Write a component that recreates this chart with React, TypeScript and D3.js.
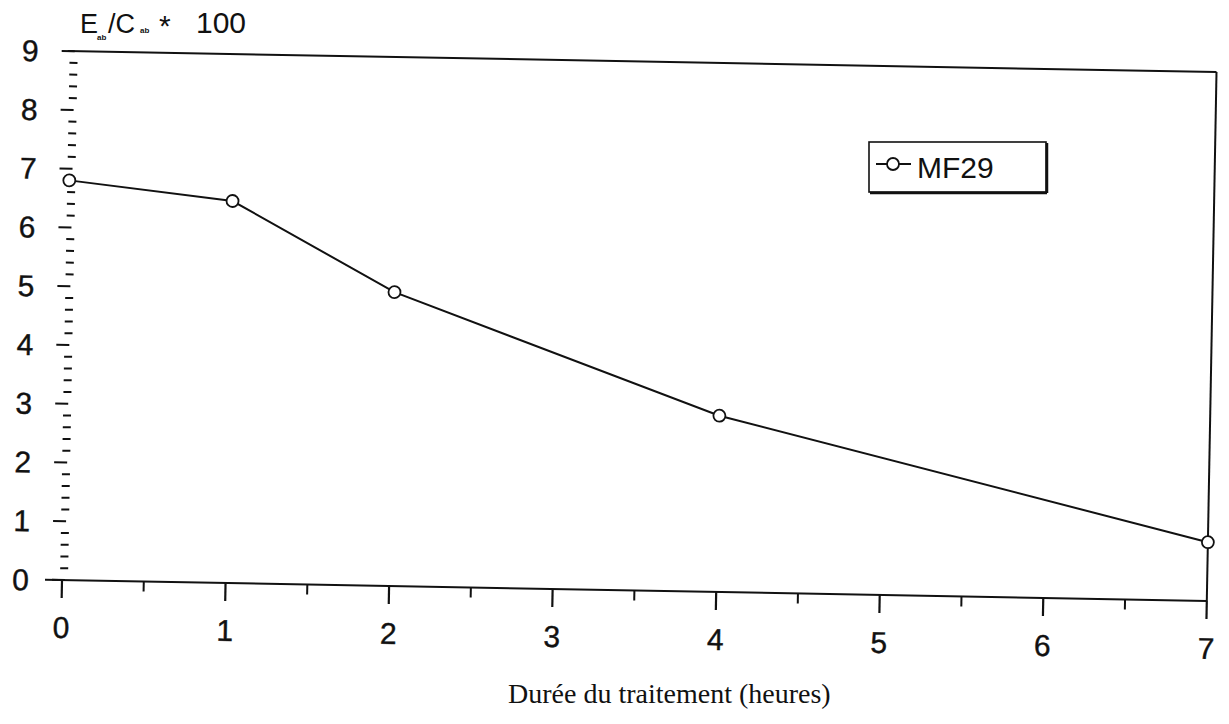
import * as d3 from 'd3'
import React from 'react'

// durée du traitement (heures) vs E/C * 100, série MF29
const hours = [0, 1, 2, 4, 7]
const mf29 = [6.8, 6.5, 5.0, 3.0, 1.0]
const xTicks = [0, 1, 2, 3, 4, 5, 6, 7]
const yTicks = [0, 1, 2, 3, 4, 5, 6, 7, 8, 9]
const seriesName = 'MF29'
const xTitle = 'Durée du traitement (heures)'

const W = 1229
const H = 724
const X0 = 62
const Y0 = 580

const App: React.FC = () => {
  const x = d3.scaleLinear().domain([0, 7]).range([X0, 1207])
  const y = d3.scaleLinear().domain([0, 9]).range([Y0, 51])

  const line = d3
    .line<number>()
    .x((d, i) => x(hours[i]))
    .y((d) => y(d))

  const minorX = d3.range(0, 7, 0.5).filter((v) => v % 1 !== 0)
  const minorY = d3.range(0, 9, 0.2).filter((v) => Math.abs(v - Math.round(v)) > 0.01)

  const sans = "'Liberation Sans', Arial, sans-serif"
  const ink = '#111'

  return (
    <svg
      width={W}
      height={H}
      style={{ position: 'absolute', left: 0, top: 0, background: '#fff' }}
    >
      {/* the scanned page is slightly tilted */}
      <g transform={`rotate(1.05, ${X0}, ${Y0})`}>
        {/* frame: top + right, x axis */}
        <line x1={58} x2={x(7)} y1={y(9)} y2={y(9)} stroke={ink} strokeWidth={2} />
        <line x1={x(7)} x2={x(7)} y1={y(9)} y2={Y0} stroke={ink} strokeWidth={2} />
        <line x1={45} x2={x(7)} y1={Y0} y2={Y0} stroke={ink} strokeWidth={2} />

        {/* x ticks */}
        {xTicks.map((t) => (
          <g key={'xt' + t}>
            <line x1={x(t)} x2={x(t)} y1={Y0} y2={Y0 + 18} stroke={ink} strokeWidth={2.2} />
            <text
              x={x(t)}
              y={Y0 + 58}
              textAnchor='middle'
              fontFamily={sans}
              fontSize={30}
              stroke={ink}
              strokeWidth={0.4}
              fill={ink}
            >
              {t}
            </text>
          </g>
        ))}
        {minorX.map((t) => (
          <line key={'xm' + t} x1={x(t)} x2={x(t)} y1={Y0} y2={Y0 + 10} stroke={ink} strokeWidth={2} />
        ))}

        {/* y ticks */}
        {yTicks.map((t) => (
          <g key={'yt' + t}>
            <line x1={X0 - 10} x2={X0 + 3} y1={y(t)} y2={y(t)} stroke={ink} strokeWidth={2} />
            <text
              x={29}
              y={y(t)}
              dy='0.36em'
              textAnchor='end'
              fontFamily={sans}
              fontSize={30}
              stroke={ink}
              strokeWidth={0.4}
              fill={ink}
            >
              {t}
            </text>
          </g>
        ))}
        {minorY.map((t) => (
          <line
            key={'ym' + t}
            x1={X0 - 2}
            x2={X0 + 6}
            y1={y(t)}
            y2={y(t)}
            stroke={ink}
            strokeWidth={2}
          />
        ))}

        {/* series */}
        <path d={line(mf29) || ''} fill='none' stroke={ink} strokeWidth={2} />
        {mf29.map((v, i) => (
          <circle
            key={'pt' + i}
            cx={x(hours[i])}
            cy={y(v)}
            r={6}
            fill='#fff'
            stroke={ink}
            strokeWidth={1.8}
          />
        ))}
      </g>

      {/* y axis title */}
      <g fontFamily={sans} fill={ink}>
        <text x={80} y={33} fontSize={27}>
          E
        </text>
        <text x={97} y={40} fontSize={8} fontWeight='bold'>
          ab
        </text>
        <text x={108} y={33} fontSize={27}>
          /C
        </text>
        <text x={140} y={33} fontSize={8} fontWeight='bold'>
          ab
        </text>
        <text x={159} y={36} fontSize={30}>
          *
        </text>
        <text x={196} y={33} fontSize={30}>
          100
        </text>
      </g>

      {/* legend */}
      <g>
        <rect x={869} y={142} width={177} height={50} fill='#fff' stroke={ink} strokeWidth={1.6} />
        <line x1={1047} x2={1047} y1={143} y2={193} stroke={ink} strokeWidth={2.5} />
        <line x1={870} x2={1047} y1={193} y2={193} stroke={ink} strokeWidth={2.5} />
        <line x1={876} x2={911} y1={164} y2={164} stroke={ink} strokeWidth={2} />
        <circle cx={893} cy={164} r={6} fill='#fff' stroke={ink} strokeWidth={1.8} />
        <text x={917} y={178} fontFamily={sans} fontSize={30} fill={ink}>
          {seriesName}
        </text>
      </g>

      {/* x axis title */}
      <text
        x={508}
        y={703}
        fontFamily="'Liberation Serif', 'Times New Roman', serif"
        fontSize={28}
        fill={ink}
      >
        {xTitle}
      </text>
    </svg>
  )
}

export default App
